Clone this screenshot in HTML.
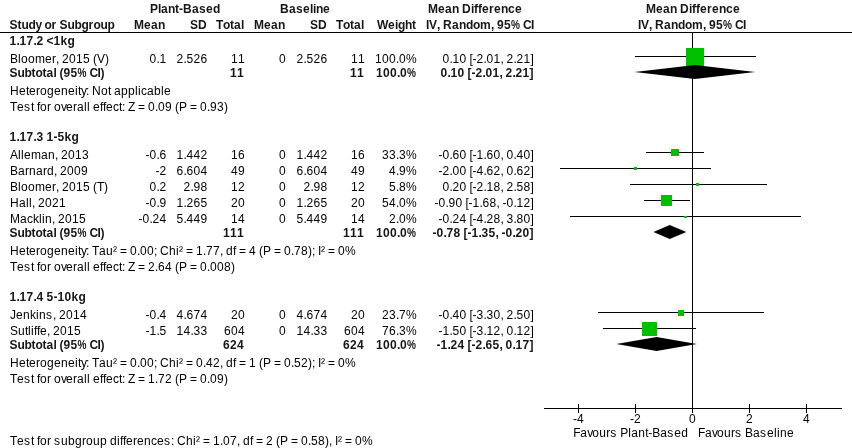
<!DOCTYPE html>
<html><head><meta charset="utf-8"><title>Forest plot</title>
<style>
html,body{margin:0;padding:0;background:#fff;}
svg{display:block;will-change:transform;}
text{font-family:"Liberation Sans",sans-serif;font-size:12px;fill:#000;font-kerning:none;font-variant-ligatures:none;}
text.b{font-weight:bold;fill:#161616;}
</style></head>
<body>
<svg width="852" height="448" viewBox="0 0 852 448">
<rect width="852" height="448" fill="#fff"/>
<g shape-rendering="crispEdges" fill="#000">
<rect x="0" y="32" width="852" height="1"/>
<rect x="692" y="33" width="1" height="380"/>
<rect x="544" y="408" width="298" height="1"/>
<rect x="578" y="404" width="1" height="9"/>
<rect x="635" y="404" width="1" height="9"/>
<rect x="692" y="404" width="1" height="9"/>
<rect x="749" y="404" width="1" height="9"/>
<rect x="806" y="404" width="1" height="9"/>
<rect x="635" y="56" width="121" height="1"/>
<rect x="646" y="152" width="58" height="1"/>
<rect x="560" y="168" width="151" height="1"/>
<rect x="630" y="184" width="137" height="1"/>
<rect x="644" y="200" width="46" height="1"/>
<rect x="570" y="216" width="231" height="1"/>
<rect x="598" y="312" width="166" height="1"/>
<rect x="603" y="328" width="93" height="1"/>
</g>
<g shape-rendering="crispEdges" fill="#00c000">
<rect x="686" y="48" width="18" height="18"/>
<rect x="671" y="149" width="8" height="7"/>
<rect x="634" y="167" width="3" height="3"/>
<rect x="696" y="183" width="3" height="3"/>
<rect x="661" y="195" width="11" height="11"/>
<rect x="684" y="216" width="3" height="2"/>
<rect x="678" y="310" width="6" height="6"/>
<rect x="642" y="322" width="15" height="14"/>
</g>
<g fill="#000">
<polygon points="634.6,72 694.9,65 755.1,72 694.9,79"/>
<polygon points="653.5,232 669.7,225 686.3,232 669.7,239"/>
<polygon points="616.3,344 656.6,337 696.9,344 656.6,351"/>
</g>
<g>
<text x="150 158 161 168 175 179 183 192 199 206 213" y="13" class="b">Plant-Based</text>
<text x="280 289 296 303 310 313 316 323" y="13" class="b">Baseline</text>
<text x="428 438 445 452 459 462 471 474 478 482 489 494 501 508 515" y="13" class="b">Mean Difference</text>
<text x="646 656 663 670 677 680 689 692 696 700 707 712 719 726 733" y="13" class="b">Mean Difference</text>
<text x="9.5 17.5 21.5 28.5 35.5 41.5 44.5 51.5 56.5 59.5 67.5 74.5 81.5 88.5 93.5 100.5 107.5" y="29" class="b">Study or Subgroup</text>
<text x="134 144 151 158" y="29" class="b">Mean</text>
<text x="190 198" y="29" class="b">SD</text>
<text x="216 223 230 234 241" y="29" class="b">Total</text>
<text x="254 264 271 278" y="29" class="b">Mean</text>
<text x="310 318" y="29" class="b">SD</text>
<text x="336 343 350 354 361" y="29" class="b">Total</text>
<text x="377 388 395 398 405 412" y="29" class="b">Weight</text>
<text class="b" transform="translate(511,29) scale(0.84,1)">%</text>
<text x="426 429 437 440 443 452 459 466 473 480 491 494 497 504 520 523 531" y="29" class="b">IV, Random, 95 CI</text>
<text class="b" transform="translate(723,29) scale(0.84,1)">%</text>
<text x="638 641 649 652 655 664 671 678 685 692 703 706 709 716 732 735 743" y="29" class="b">IV, Random, 95 CI</text>
<text x="9.5 16.5 19.5 26.5 33.5 36.5 43.5 46.5 53.5 60.5 67.5" y="45" class="b">1.17.2 &lt;1kg</text>
<text x="10 18 21 28 35 45 52 56 59 62 69 76 83 90 93 97 105" y="63">Bloomer, 2015 (V)</text>
<text x="149.5 156.5 159.5" y="63">0.1</text>
<text x="176.5 183.5 186.5 193.5 200.5" y="63">2.526</text>
<text x="231 238" y="63">11</text>
<text x="279" y="63">0</text>
<text x="296.5 303.5 306.5 313.5 320.5" y="63">2.526</text>
<text x="351 358" y="63">11</text>
<text x="375 382 389 396 399 406" y="63">100.0%</text>
<text x="442.5 449.5 452.5 459.5 466.5 469.5 472.5 476.5 483.5 486.5 493.5 500.5 503.5 506.5 513.5 516.5 523.5 530.5" y="63">0.10 [-2.01, 2.21]</text>
<text class="b" transform="translate(77.5,77) scale(0.84,1)">%</text>
<text x="9.5 17.5 24.5 31.5 35.5 42.5 46.5 53.5 56.5 59.5 63.5 70.5 86.5 89.5 97.5 100.5" y="77" class="b">Subtotal (95 CI)</text>
<text x="230 237" y="77" class="b">11</text>
<text x="350 357" y="77" class="b">11</text>
<text class="b" transform="translate(407,77) scale(0.84,1)">%</text>
<text x="376 383 390 397 400" y="77" class="b">100.0</text>
<text x="440.5 447.5 450.5 457.5 464.5 467.5 471.5 475.5 482.5 485.5 492.5 499.5 502.5 505.5 512.5 515.5 522.5 529.5" y="77" class="b">0.10 [-2.01, 2.21]</text>
<text x="10 19 26 29 36 40 47 54 61 68 75 78 81 86 89 92 101 108 111 114 121 128 135 138 141 147 154 161 164" y="95">Heterogeneity: Not applicable</text>
<text x="10 17 24 31 34 37 40 47 51 54 61 66 73 77 84 87 90 93 100 103 106 113 119 122 125 128 135 138 145 148 155 158 165 172 175 179 187 190 197 200 207 210 217 224" y="111">Test for overall effect: Z = 0.09 (P = 0.93)</text>
<text x="9.5 16.5 19.5 26.5 33.5 36.5 43.5 46.5 53.5 57.5 64.5 71.5" y="141" class="b">1.17.3 1-5kg</text>
<text x="10 18 21 24 31 41 48 55 58 61 68 75 82" y="159">Alleman, 2013</text>
<text x="145.5 149.5 156.5 159.5" y="159">-0.6</text>
<text x="176.5 183.5 186.5 193.5 200.5" y="159">1.442</text>
<text x="231 238" y="159">16</text>
<text x="279" y="159">0</text>
<text x="296.5 303.5 306.5 313.5 320.5" y="159">1.442</text>
<text x="351 358" y="159">16</text>
<text x="382 389 396 399 406" y="159">33.3%</text>
<text x="438.5 442.5 449.5 452.5 459.5 466.5 469.5 472.5 476.5 483.5 486.5 493.5 500.5 503.5 506.5 513.5 516.5 523.5 530.5" y="159">-0.60 [-1.60, 0.40]</text>
<text x="10 18 25 29 36 43 47 54 57 60 67 74 81" y="175">Barnard, 2009</text>
<text x="155.5 159.5" y="175">-2</text>
<text x="176.5 183.5 186.5 193.5 200.5" y="175">6.604</text>
<text x="231 238" y="175">49</text>
<text x="279" y="175">0</text>
<text x="296.5 303.5 306.5 313.5 320.5" y="175">6.604</text>
<text x="351 358" y="175">49</text>
<text x="389 396 399 406" y="175">4.9%</text>
<text x="438.5 442.5 449.5 452.5 459.5 466.5 469.5 472.5 476.5 483.5 486.5 493.5 500.5 503.5 506.5 513.5 516.5 523.5 530.5" y="175">-2.00 [-4.62, 0.62]</text>
<text x="10 18 21 28 35 45 52 56 59 62 69 76 83 90 93 97 104" y="191">Bloomer, 2015 (T)</text>
<text x="149.5 156.5 159.5" y="191">0.2</text>
<text x="183.5 190.5 193.5 200.5" y="191">2.98</text>
<text x="231 238" y="191">12</text>
<text x="279" y="191">0</text>
<text x="303.5 310.5 313.5 320.5" y="191">2.98</text>
<text x="351 358" y="191">12</text>
<text x="389 396 399 406" y="191">5.8%</text>
<text x="442.5 449.5 452.5 459.5 466.5 469.5 472.5 476.5 483.5 486.5 493.5 500.5 503.5 506.5 513.5 516.5 523.5 530.5" y="191">0.20 [-2.18, 2.58]</text>
<text x="10 19 26 29 32 35 38 45 52 59" y="207">Hall, 2021</text>
<text x="145.5 149.5 156.5 159.5" y="207">-0.9</text>
<text x="176.5 183.5 186.5 193.5 200.5" y="207">1.265</text>
<text x="231 238" y="207">20</text>
<text x="279" y="207">0</text>
<text x="296.5 303.5 306.5 313.5 320.5" y="207">1.265</text>
<text x="351 358" y="207">20</text>
<text x="382 389 396 399 406" y="207">54.0%</text>
<text x="434.5 438.5 445.5 448.5 455.5 462.5 465.5 468.5 472.5 479.5 482.5 489.5 496.5 499.5 502.5 506.5 513.5 516.5 523.5 530.5" y="207">-0.90 [-1.68, -0.12]</text>
<text x="10 20 27 33 39 42 45 52 55 58 65 72 79" y="223">Macklin, 2015</text>
<text x="138.5 142.5 149.5 152.5 159.5" y="223">-0.24</text>
<text x="176.5 183.5 186.5 193.5 200.5" y="223">5.449</text>
<text x="231 238" y="223">14</text>
<text x="279" y="223">0</text>
<text x="296.5 303.5 306.5 313.5 320.5" y="223">5.449</text>
<text x="351 358" y="223">14</text>
<text x="389 396 399 406" y="223">2.0%</text>
<text x="438.5 442.5 449.5 452.5 459.5 466.5 469.5 472.5 476.5 483.5 486.5 493.5 500.5 503.5 506.5 513.5 516.5 523.5 530.5" y="223">-0.24 [-4.28, 3.80]</text>
<text class="b" transform="translate(77.5,237) scale(0.84,1)">%</text>
<text x="9.5 17.5 24.5 31.5 35.5 42.5 46.5 53.5 56.5 59.5 63.5 70.5 86.5 89.5 97.5 100.5" y="237" class="b">Subtotal (95 CI)</text>
<text x="223 230 237" y="237" class="b">111</text>
<text x="343 350 357" y="237" class="b">111</text>
<text class="b" transform="translate(407,237) scale(0.84,1)">%</text>
<text x="376 383 390 397 400" y="237" class="b">100.0</text>
<text x="432.5 436.5 443.5 446.5 453.5 460.5 463.5 467.5 471.5 478.5 481.5 488.5 495.5 498.5 501.5 505.5 512.5 515.5 522.5 529.5" y="237" class="b">-0.78 [-1.35, -0.20]</text>
<text x="10 19 26 29 36 40 47 54 61 68 75 78 81 86 89 92 99 106 113 117 120 127 130 137 140 147 154 157 160 169 176 179 183 186 193 196 203 206 213 220 223 226 233 236 239 246 249 256 259 263 271 274 281 284 291 294 301 308 312 315 318 321 325 328 335 338 345" y="255">Heterogeneity: Tau² = 0.00; Chi² = 1.77, df = 4 (P = 0.78); I² = 0%</text>
<text x="10 17 24 31 34 37 40 47 51 54 61 66 73 77 84 87 90 93 100 103 106 113 119 122 125 128 135 138 145 148 155 158 165 172 175 179 187 190 197 200 207 210 217 224 231" y="271">Test for overall effect: Z = 2.64 (P = 0.008)</text>
<text x="9.5 16.5 19.5 26.5 33.5 36.5 43.5 46.5 53.5 57.5 64.5 71.5 78.5" y="301" class="b">1.17.4 5-10kg</text>
<text x="10 16 23 30 36 39 46 53 56 59 66 73 80" y="319">Jenkins, 2014</text>
<text x="145.5 149.5 156.5 159.5" y="319">-0.4</text>
<text x="176.5 183.5 186.5 193.5 200.5" y="319">4.674</text>
<text x="231 238" y="319">20</text>
<text x="279" y="319">0</text>
<text x="296.5 303.5 306.5 313.5 320.5" y="319">4.674</text>
<text x="351 358" y="319">20</text>
<text x="382 389 396 399 406" y="319">23.7%</text>
<text x="438.5 442.5 449.5 452.5 459.5 466.5 469.5 472.5 476.5 483.5 486.5 493.5 500.5 503.5 506.5 513.5 516.5 523.5 530.5" y="319">-0.40 [-3.30, 2.50]</text>
<text x="10 18 25 28 31 34 37 40 47 50 53 60 67 74" y="335">Sutliffe, 2015</text>
<text x="145.5 149.5 156.5 159.5" y="335">-1.5</text>
<text x="176.5 183.5 190.5 193.5 200.5" y="335">14.33</text>
<text x="224 231 238" y="335">604</text>
<text x="279" y="335">0</text>
<text x="296.5 303.5 310.5 313.5 320.5" y="335">14.33</text>
<text x="344 351 358" y="335">604</text>
<text x="382 389 396 399 406" y="335">76.3%</text>
<text x="438.5 442.5 449.5 452.5 459.5 466.5 469.5 472.5 476.5 483.5 486.5 493.5 500.5 503.5 506.5 513.5 516.5 523.5 530.5" y="335">-1.50 [-3.12, 0.12]</text>
<text class="b" transform="translate(77.5,349) scale(0.84,1)">%</text>
<text x="9.5 17.5 24.5 31.5 35.5 42.5 46.5 53.5 56.5 59.5 63.5 70.5 86.5 89.5 97.5 100.5" y="349" class="b">Subtotal (95 CI)</text>
<text x="223 230 237" y="349" class="b">624</text>
<text x="343 350 357" y="349" class="b">624</text>
<text class="b" transform="translate(407,349) scale(0.84,1)">%</text>
<text x="376 383 390 397 400" y="349" class="b">100.0</text>
<text x="436.5 440.5 447.5 450.5 457.5 464.5 467.5 471.5 475.5 482.5 485.5 492.5 499.5 502.5 505.5 512.5 515.5 522.5 529.5" y="349" class="b">-1.24 [-2.65, 0.17]</text>
<text x="10 19 26 29 36 40 47 54 61 68 75 78 81 86 89 92 99 106 113 117 120 127 130 137 140 147 154 157 160 169 176 179 183 186 193 196 203 206 213 220 223 226 233 236 239 246 249 256 259 263 271 274 281 284 291 294 301 308 312 315 318 321 325 328 335 338 345" y="367">Heterogeneity: Tau² = 0.00; Chi² = 0.42, df = 1 (P = 0.52); I² = 0%</text>
<text x="10 17 24 31 34 37 40 47 51 54 61 66 73 77 84 87 90 93 100 103 106 113 119 122 125 128 135 138 145 148 155 158 165 172 175 179 187 190 197 200 207 210 217 224" y="383">Test for overall effect: Z = 1.72 (P = 0.09)</text>
<text x="10 17 24 31 34 37 40 47 51 54 61 68 75 82 86 93 100 107 110 117 120 123 126 133 137 144 151 157 164 171 174 177 186 193 196 200 203 210 213 220 223 230 237 240 243 250 253 256 263 266 273 276 280 288 291 298 301 308 311 318 325 329 332 335 338 342 345 352 355 362" y="445">Test for subgroup differences: Chi² = 1.07, df = 2 (P = 0.58), I² = 0%</text>
<text x="573 577" y="423" fill="#222">-4</text>
<text x="630 634" y="423" fill="#222">-2</text>
<text x="689" y="423" fill="#222">0</text>
<text x="746" y="423" fill="#222">2</text>
<text x="803" y="423" fill="#222">4</text>
<text x="573.3 580.3 587.3 592.3 599.3 606.3 610.3 617.3 620.3 628.3 631.3 638.3 645.3 648.3 652.3 660.3 667.3 674.3 681.3" y="437" fill="#4a4a4a">Favours Plant-Based</text>
<text x="698 705 712 717 724 731 735 742 745 753 760 767 774 777 780 787" y="437" fill="#4a4a4a">Favours Baseline</text>
</g>
</svg>
</body></html>
